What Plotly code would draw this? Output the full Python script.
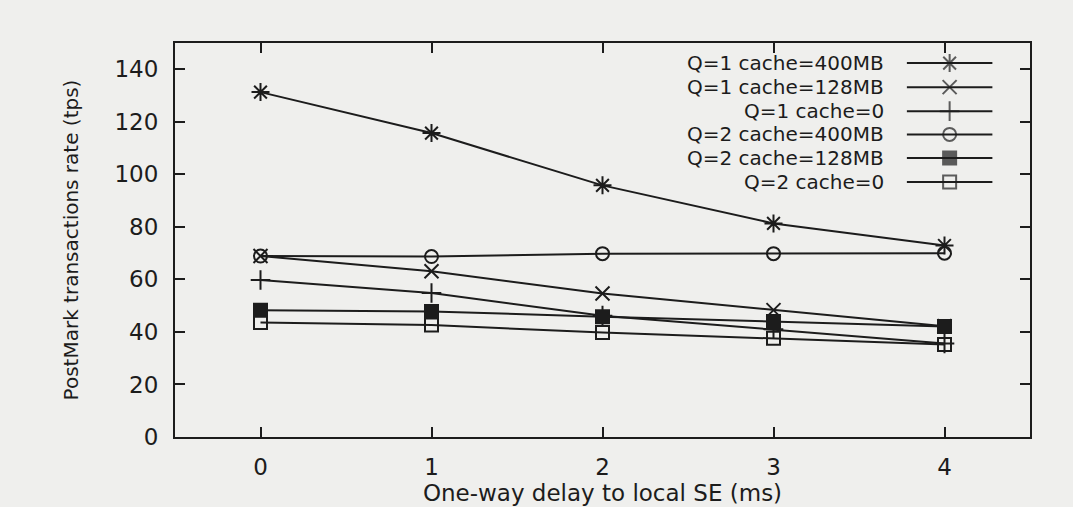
import plotly.graph_objects as go

delay_ms = [0, 1, 2, 3, 4]

series_names = [
    "Q=1 cache=400MB",
    "Q=1 cache=128MB",
    "Q=1 cache=0",
    "Q=2 cache=400MB",
    "Q=2 cache=128MB",
    "Q=2 cache=0",
]

q1_cache400 = [131.3, 115.7, 95.8, 81.3, 72.9]
q1_cache128 = [68.9, 63.1, 54.6, 48.3, 42.2]
q1_cache0 = [59.8, 54.8, 46.2, 41.0, 35.6]
q2_cache400 = [68.9, 68.7, 69.8, 69.8, 70.0]
q2_cache128 = [48.3, 47.8, 45.8, 44.0, 42.1]
q2_cache0 = [43.6, 42.6, 39.8, 37.6, 35.2]

series_values = [q1_cache400, q1_cache128, q1_cache0, q2_cache400, q2_cache128, q2_cache0]
symbols = ["asterisk-open", "x-thin-open", "cross-thin-open", "circle-open", "square", "square-open"]
sizes = [15, 14, 14, 13, 13, 13]

y_ticks = [0, 20, 40, 60, 80, 100, 120, 140]

INK = "#1c1c1c"
BG = "#efefed"
FONT = "DejaVu Sans"

fig = go.Figure()

for name, vals, sym, sz in zip(series_names, series_values, symbols, sizes):
    fig.add_trace(go.Scatter(
        x=delay_ms, y=vals, mode="lines+markers", name=name,
        line=dict(color=INK, width=2),
        marker=dict(symbol=sym, size=sz, color=INK, line=dict(color=INK, width=2)),
        showlegend=False, cliponaxis=False,
    ))

# custom gnuplot-style key: text right-aligned, sample line to the right
row_y = [0.949, 0.888, 0.827, 0.768, 0.708, 0.647]
for name, sym, sz, ry in zip(series_names, symbols, sizes, row_y):
    fig.add_trace(go.Scatter(
        x=[0.856, 0.906, 0.956], y=[ry, ry, ry], xaxis="x2", yaxis="y2",
        mode="lines+markers", showlegend=False, hoverinfo="skip",
        line=dict(color=INK, width=2),
        marker=dict(symbol=sym, size=[0, sz, 0], color=INK, line=dict(color=INK, width=2)),
    ))
    fig.add_annotation(
        x=0.832, y=ry, xref="paper", yref="paper", text=name, showarrow=False,
        xanchor="right", yanchor="middle", font=dict(family=FONT, size=20, color=INK),
    )

axis_common = dict(
    showline=True, linecolor=INK, linewidth=2, mirror="allticks",
    ticks="inside", ticklen=10, tickwidth=2, tickcolor=INK,
    showgrid=False, zeroline=False, automargin=False,
    tickfont=dict(family=FONT, size=23, color=INK),
)

fig.update_layout(
    width=1073, height=507,
    margin=dict(l=175, r=43, t=43, b=70),
    paper_bgcolor=BG, plot_bgcolor=BG,
    xaxis=dict(range=[-0.5, 4.5], tickvals=delay_ms, ticklabelstandoff=8,
               title=dict(text="One-way delay to local SE (ms)", standoff=6,
                          font=dict(family=FONT, size=23, color=INK)),
               **axis_common),
    yaxis=dict(range=[0, 150], tickvals=y_ticks, ticklabelstandoff=10,
               title=dict(text="PostMark transactions rate (tps)", standoff=30,
                          font=dict(family=FONT, size=20, color=INK)),
               **axis_common),
    xaxis2=dict(overlaying="x", range=[0, 1], visible=False, fixedrange=True),
    yaxis2=dict(overlaying="y", range=[0, 1], visible=False, fixedrange=True),
)

fig.write_html("out.html", config={"displayModeBar": False},
               post_script="document.body.style.margin='0';")
